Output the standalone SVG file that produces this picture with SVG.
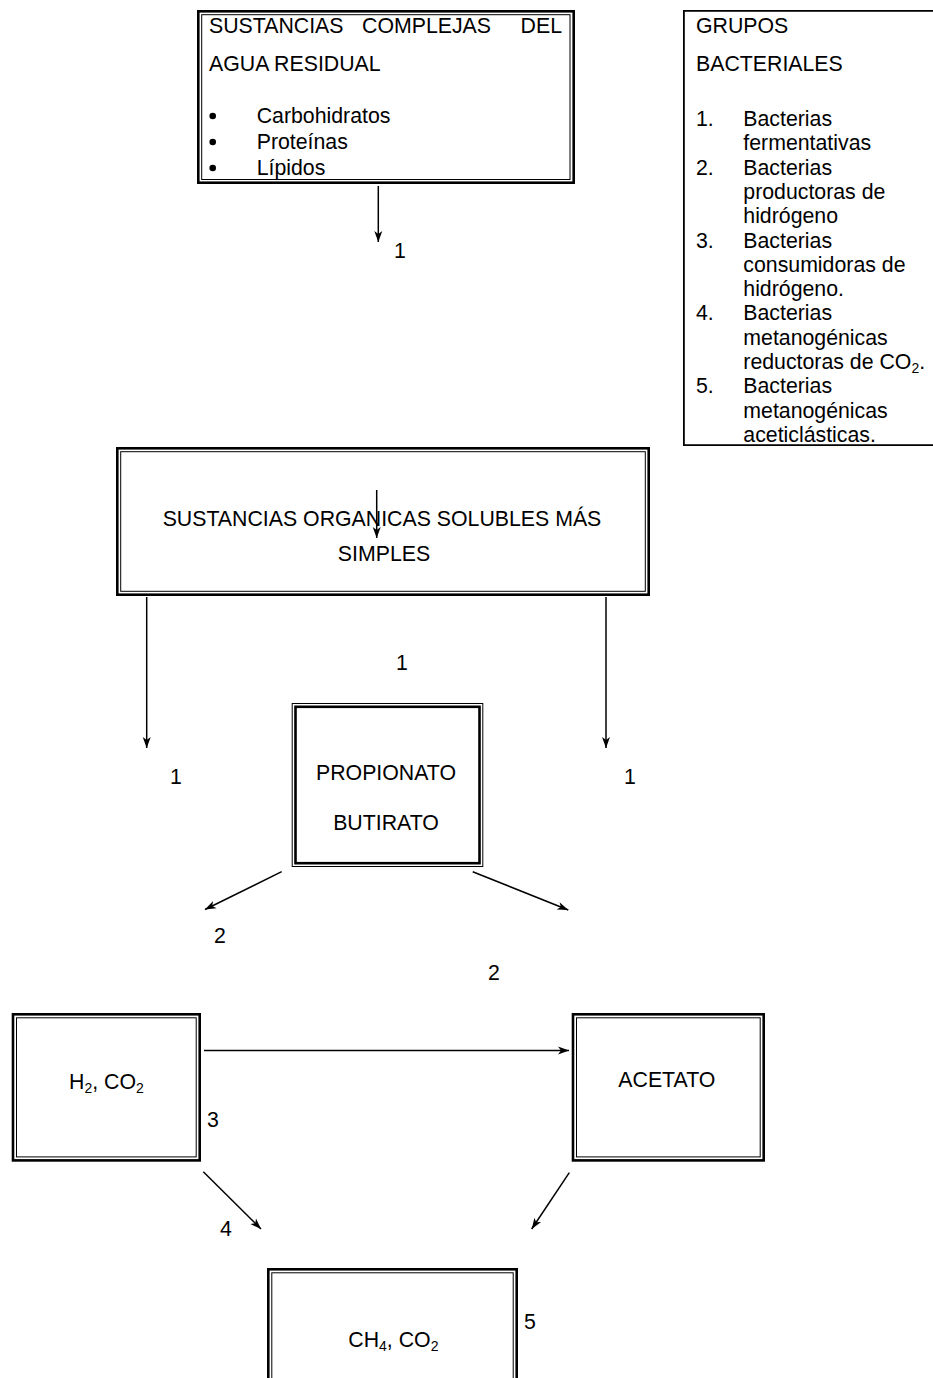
<svg xmlns="http://www.w3.org/2000/svg" width="933" height="1378" viewBox="0 0 933 1378">
<style>
.thick{fill:none;stroke:#000;stroke-width:2.6}
.thin{fill:none;stroke:#000;stroke-width:1}
.t{font-family:"Liberation Sans",Arial,sans-serif;font-size:21.3px;fill:#000}
.m{text-anchor:middle}
.s{font-size:14px}
.b{fill:#000}
.c{fill:none;stroke:#000;stroke-width:1.5;marker-end:url(#ah)}
</style>
<defs>
<marker id="ah" viewBox="0 0 12 10" refX="11" refY="5" markerWidth="12" markerHeight="10" markerUnits="userSpaceOnUse" orient="auto">
<path d="M0,1 L11,5 L0,9 L3,5 Z" fill="#000"/>
</marker>
</defs>
<rect width="933" height="1378" fill="#fff"/>

<g id="complejas">
<rect class="thick" x="198.3" y="11.3" width="375.4" height="171.4"/>
<rect class="thin" x="201.7" y="14.7" width="368.3" height="164.8"/>
<text class="t" x="209" y="33">SUSTANCIAS</text>
<text class="t" x="362" y="33">COMPLEJAS</text>
<text class="t" x="562" y="33" text-anchor="end">DEL</text>
<text class="t" x="209" y="71">AGUA RESIDUAL</text>
<circle class="b" cx="212.7" cy="116" r="3.3"/>
<text class="t" x="256.7" y="123">Carbohidratos</text>
<circle class="b" cx="212.7" cy="142" r="3.3"/>
<text class="t" x="256.7" y="149">Proteínas</text>
<circle class="b" cx="212.7" cy="168" r="3.3"/>
<text class="t" x="256.7" y="175">Lípidos</text>
</g>

<g id="grupos">
<path d="M933,10.9 H683.9 V445.1 H933" fill="none" stroke="#000" stroke-width="1.8"/>
<text class="t" x="696" y="33">GRUPOS</text>
<text class="t" x="696" y="71">BACTERIALES</text>
<text class="t" x="696" y="126">1.</text>
<text class="t" x="743.3" y="126">Bacterias</text>
<text class="t" x="743.3" y="150.3">fermentativas</text>
<text class="t" x="696" y="174.6">2.</text>
<text class="t" x="743.3" y="174.6">Bacterias</text>
<text class="t" x="743.3" y="198.9">productoras de</text>
<text class="t" x="743.3" y="223.2">hidrógeno</text>
<text class="t" x="696" y="247.5">3.</text>
<text class="t" x="743.3" y="247.5">Bacterias</text>
<text class="t" x="743.3" y="271.8">consumidoras de</text>
<text class="t" x="743.3" y="296.1">hidrógeno.</text>
<text class="t" x="696" y="320.4">4.</text>
<text class="t" x="743.3" y="320.4">Bacterias</text>
<text class="t" x="743.3" y="344.7">metanogénicas</text>
<text class="t" x="743.3" y="369">reductoras de CO<tspan class="s" dy="4">2</tspan><tspan dy="-4">.</tspan></text>
<text class="t" x="696" y="393.3">5.</text>
<text class="t" x="743.3" y="393.3">Bacterias</text>
<text class="t" x="743.3" y="417.6">metanogénicas</text>
<text class="t" x="743.3" y="441.9">aceticlásticas.</text>
</g>

<g id="solubles">
<rect class="thick" x="117.3" y="448.3" width="531.4" height="146.4"/>
<rect class="thin" x="120.7" y="451.7" width="524.6" height="139.6"/>
<text class="t m" x="382" y="526">SUSTANCIAS ORGANICAS SOLUBLES MÁS</text>
<text class="t m" x="384" y="561">SIMPLES</text>
</g>

<g id="propionato">
<rect class="thin" x="292.2" y="703.5" width="190.6" height="163"/>
<rect class="thick" x="295.5" y="706.8" width="184" height="156.4"/>
<text class="t m" x="386" y="780">PROPIONATO</text>
<text class="t m" x="386" y="830">BUTIRATO</text>
</g>

<g id="h2co2">
<rect class="thick" x="13" y="1014.3" width="186.7" height="146.1"/>
<rect class="thin" x="16.5" y="1017.8" width="179.7" height="139.1"/>
<text class="t" x="69" y="1089">H<tspan class="s" dy="4">2</tspan><tspan dy="-4">, CO</tspan><tspan class="s" dy="4">2</tspan></text>
</g>

<g id="acetato">
<rect class="thick" x="573" y="1014.3" width="190.7" height="146.1"/>
<rect class="thin" x="576.5" y="1017.8" width="183.7" height="139.1"/>
<text class="t" x="618.3" y="1087">ACETATO</text>
</g>

<g id="ch4co2">
<rect class="thick" x="268.3" y="1269.3" width="248.4" height="200"/>
<rect class="thin" x="271.8" y="1272.8" width="241.4" height="200"/>
<text class="t" x="348.3" y="1347">CH<tspan class="s" dy="4">4</tspan><tspan dy="-4">, CO</tspan><tspan class="s" dy="4">2</tspan></text>
</g>

<g id="connectors">
<line class="c" x1="378.3" y1="186" x2="378.3" y2="242"/>
<line class="c" x1="376.7" y1="490" x2="376.7" y2="538"/>
<line class="c" x1="146.7" y1="597" x2="146.7" y2="748"/>
<line class="c" x1="606" y1="597" x2="606" y2="748"/>
<line class="c" x1="281.7" y1="871.7" x2="205" y2="909.5"/>
<line class="c" x1="472.7" y1="871.7" x2="568.3" y2="910"/>
<line class="c" x1="204" y1="1050.5" x2="569" y2="1050.5"/>
<line class="c" x1="203.3" y1="1171.7" x2="261" y2="1229"/>
<line class="c" x1="569.3" y1="1172.7" x2="531.7" y2="1229"/>
<text class="t m" x="400" y="258">1</text>
<text class="t m" x="402" y="670">1</text>
<text class="t m" x="176" y="784">1</text>
<text class="t m" x="630" y="784">1</text>
<text class="t m" x="220" y="943">2</text>
<text class="t m" x="494" y="980">2</text>
<text class="t" x="207" y="1127">3</text>
<text class="t m" x="226" y="1236">4</text>
<text class="t" x="524" y="1329">5</text>
</g>
</svg>
